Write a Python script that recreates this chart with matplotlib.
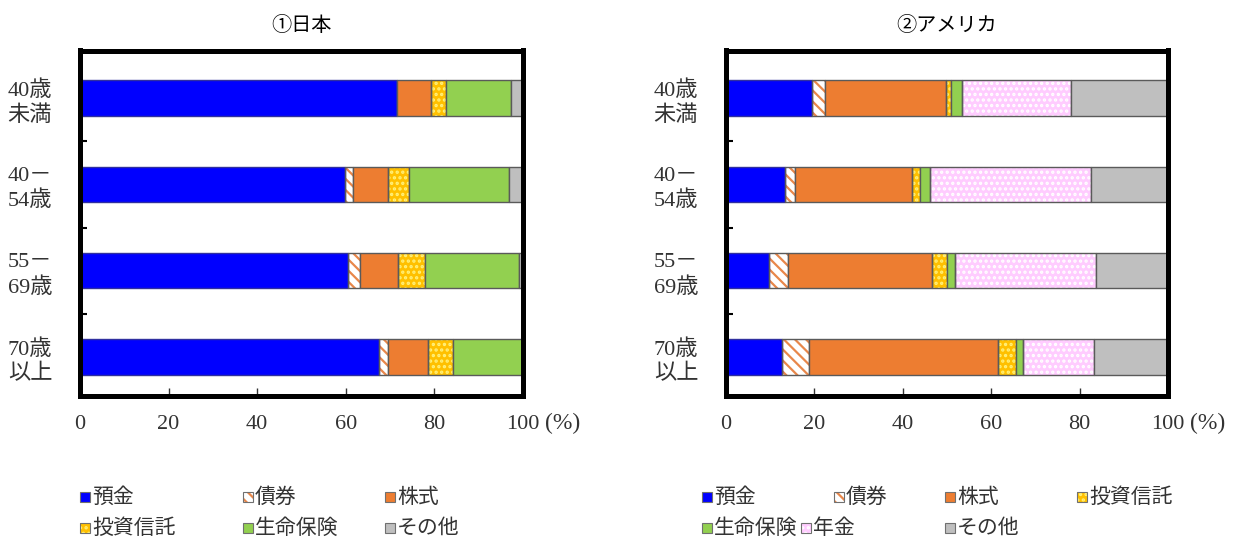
import matplotlib
matplotlib.use("Agg")
import matplotlib.pyplot as plt
from matplotlib.patches import Rectangle
import numpy as np

plt.rcParams['font.family'] = ['Liberation Serif', 'Noto Sans CJK JP', 'DejaVu Sans']
plt.rcParams['hatch.linewidth'] = 1.6

# Age groups (top to bottom)
age_groups = ["40歳\n未満", "40－\n54歳", "55－\n69歳", "70歳\n以上"]

# Japan: share of household financial assets (%)
jp_deposits = [71.5, 59.9, 60.6, 67.4]
jp_bonds = [0.0, 1.8, 2.6, 2.2]
jp_stocks = [7.7, 7.9, 8.5, 8.9]
jp_trusts = [3.5, 4.6, 6.1, 5.7]
jp_insurance = [14.7, 22.7, 21.3, 15.8]
jp_other = [2.6, 3.1, 0.9, 0.0]

# United States: share of household financial assets (%)
us_deposits = [19.5, 13.4, 9.7, 12.7]
us_bonds = [2.9, 2.1, 4.3, 6.1]
us_stocks = [27.4, 26.5, 32.7, 42.7]
us_trusts = [1.1, 2.0, 3.4, 4.0]
us_insurance = [2.6, 2.1, 1.8, 1.8]
us_pension = [24.5, 36.4, 31.9, 15.9]
us_other = [22.0, 17.5, 16.2, 16.8]

x_ticks = [0, 20, 40, 60, 80, 100]

# name -> (face colour, hatch, hatch colour)
STYLE = {
    "預金": ("#0000FF", None, None),
    "債券": ("#FFFFFF", "\\\\\\", "#E8874A"),
    "株式": ("#ED7D31", None, None),
    "投資信託": ("#FFC000", "...", "#FFF07A"),
    "生命保険": ("#92D050", None, None),
    "年金": ("#FFCCFF", "...", "#FFFFFF"),
    "その他": ("#BFBFBF", None, None),
}
EDGE = "#5A5A5A"
TEXT = "#333333"

jp_series = [("預金", jp_deposits), ("債券", jp_bonds), ("株式", jp_stocks),
             ("投資信託", jp_trusts), ("生命保険", jp_insurance), ("その他", jp_other)]
us_series = [("預金", us_deposits), ("債券", us_bonds), ("株式", us_stocks),
             ("投資信託", us_trusts), ("生命保険", us_insurance), ("年金", us_pension),
             ("その他", us_other)]

W, H = 1237, 544
fig = plt.figure(figsize=(W / 100, H / 100), dpi=100)
fig.patch.set_facecolor("white")

def px(x0, y0, x1, y1):
    return [x0 / W, 1 - y1 / H, (x1 - x0) / W, (y1 - y0) / H]

ax_jp = fig.add_axes(px(80, 50.5, 523, 396))
ax_us = fig.add_axes(px(726, 50.5, 1168, 396))

def draw_panel(ax, series, title):
    y = np.arange(len(age_groups))
    left = np.zeros(len(age_groups))
    h = 0.41
    for name, vals in series:
        vals = np.asarray(vals, dtype=float)
        fc, hatch, hc = STYLE[name]
        if hatch:
            ax.barh(y, vals, left=left, height=h, color=fc, hatch=hatch,
                    edgecolor=hc, linewidth=0, zorder=2)
            ax.barh(y, vals, left=left, height=h, fill=False,
                    edgecolor=EDGE, linewidth=1.0, zorder=3)
        else:
            ax.barh(y, vals, left=left, height=h, color=fc,
                    edgecolor=EDGE if name != "預金" else "#3030A0",
                    linewidth=1.0, zorder=3)
        left += vals
    ax.set_xlim(0, 100)
    ax.set_ylim(3.45, -0.55)
    ax.set_xticks(x_ticks)
    ax.set_xticklabels([str(t) for t in x_ticks], fontsize=16)
    ax.set_yticks(y)
    ax.set_yticklabels(age_groups, fontsize=16, linespacing=1.3)
    ax.set_yticks([0.5, 1.5, 2.5], minor=True)
    ax.tick_params(axis="y", which="major", length=0, pad=20, colors=TEXT)
    ax.tick_params(axis="y", which="minor", direction="in", length=5, width=1.5)
    ax.tick_params(axis="x", which="major", direction="in", length=6, width=1.0,
                   pad=14, colors=TEXT)
    for lbl in ax.get_yticklabels():
        lbl.set_multialignment("left")
    for s in ax.spines.values():
        s.set_linewidth(3.6)
        s.set_color("black")
        s.set_zorder(5)
    # unit label to the right of the last tick number
    ax.annotate("(%)", xy=(1, 0), xycoords="axes fraction",
                xytext=(16, -19.5), textcoords="offset points",
                fontsize=17, color=TEXT, ha="left", va="center")
    ax.set_title(title, fontsize=14.5, pad=14, family=["Noto Sans CJK JP"])

draw_panel(ax_jp, jp_series, "①日本")
draw_panel(ax_us, us_series, "②アメリカ")

def legend_item(x, y, name):
    fc, hatch, hc = STYLE[name]
    s = 10
    xy = (x / W, 1 - (y + s / 2) / H)
    if hatch:
        fig.patches.append(Rectangle(xy, s / W, s / H, transform=fig.transFigure,
                                     facecolor=fc, hatch=hatch, edgecolor=hc,
                                     linewidth=0))
        fig.patches.append(Rectangle(xy, s / W, s / H, transform=fig.transFigure,
                                     fill=False, edgecolor="#707070", linewidth=0.8))
    else:
        fig.patches.append(Rectangle(xy, s / W, s / H, transform=fig.transFigure,
                                     facecolor=fc, edgecolor="#707070", linewidth=0.8))
    fig.text((x + s + 2) / W, 1 - y / H, name, fontsize=15, va="center", ha="left",
             color=TEXT, family=["Noto Sans CJK JP"])

jp_legend = [(80, 497, "預金"), (243, 497, "債券"), (385, 497, "株式"),
             (80, 528, "投資信託"), (243, 528, "生命保険"), (385, 528, "その他")]
us_legend = [(702, 497, "預金"), (834, 497, "債券"), (945, 497, "株式"),
             (1077, 497, "投資信託"), (702, 528, "生命保険"), (801, 528, "年金"),
             (945, 528, "その他")]
for x, y, n in jp_legend + us_legend:
    legend_item(x, y, n)

fig.savefig("out.png", dpi=100, facecolor="white")
